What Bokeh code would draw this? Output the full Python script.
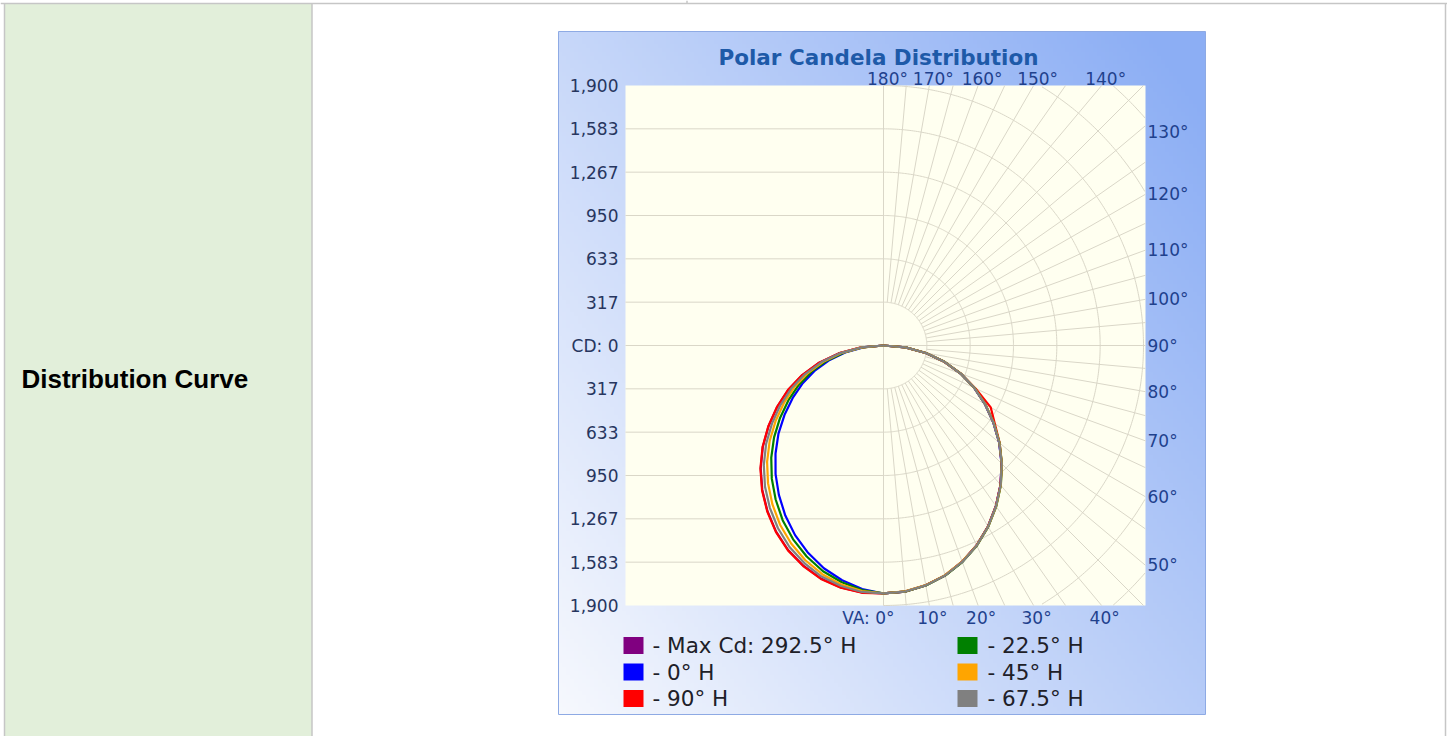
import numpy as np
from bokeh.plotting import figure
from bokeh.models import Range1d
from bokeh.core.properties import value
from bokeh.embed import file_html
from bokeh.resources import INLINE

# ---------------- data ----------------
va_deg = [0, 5, 10, 15, 20, 25, 30, 35, 40, 45, 50, 55, 60, 65, 70, 75, 80, 85, 90]

# right half of the plot (horizontal planes 0 .. 112.5)
cd_h0     = [1812, 1805, 1779, 1739, 1681, 1611, 1527, 1432, 1330, 1220, 1103, 979, 855, 731, 599, 460, 314, 161, 0]
cd_h22_5  = [1812, 1806, 1781, 1741, 1684, 1614, 1530, 1436, 1334, 1224, 1107, 983, 859, 734, 601, 462, 315, 162, 0]
cd_h45    = [1812, 1804, 1778, 1738, 1680, 1612, 1529, 1435, 1333, 1223, 1106, 982, 858, 733, 600, 461, 315, 161, 0]
cd_h67_5  = [1812, 1805, 1780, 1740, 1683, 1613, 1529, 1434, 1332, 1222, 1105, 981, 857, 732, 600, 461, 314, 161, 0]
cd_h90    = [1812, 1805, 1779, 1739, 1681, 1611, 1527, 1432, 1330, 1222, 1108, 992, 905, 742, 602, 460, 314, 161, 0]
cd_h112_5 = [1812, 1806, 1780, 1740, 1682, 1612, 1528, 1433, 1331, 1221, 1104, 980, 856, 732, 600, 461, 314, 161, 0]

# left half of the plot (opposite planes)
cd_h180   = [1812, 1786, 1742, 1685, 1612, 1529, 1435, 1333, 1227, 1116, 1002, 883, 766, 651, 531, 407, 277, 142, 0]
cd_h202_5 = [1812, 1794, 1757, 1708, 1641, 1563, 1474, 1374, 1270, 1160, 1044, 923, 803, 685, 560, 429, 292, 150, 0]
cd_h225   = [1812, 1802, 1773, 1730, 1670, 1597, 1512, 1416, 1313, 1203, 1086, 963, 840, 718, 588, 451, 308, 158, 0]
cd_h247_5 = [1812, 1808, 1785, 1748, 1692, 1625, 1542, 1448, 1347, 1237, 1120, 995, 870, 744, 610, 469, 320, 164, 0]
cd_h270   = [1812, 1814, 1798, 1766, 1715, 1652, 1573, 1481, 1381, 1272, 1154, 1027, 899, 771, 633, 487, 333, 171, 0]
cd_h292_5 = [1812, 1812, 1796, 1763, 1712, 1649, 1570, 1478, 1378, 1269, 1151, 1025, 897, 769, 631, 486, 332, 170, 0]

cd_axis_max = 1900
cd_ticks_up_labels = ["CD: 0", "317", "633", "950", "1,267", "1,583", "1,900"]
cd_ticks_down_labels = ["317", "633", "950", "1,267", "1,583", "1,900"]
va_top_labels = [180, 170, 160, 150, 140]
va_right_labels = [130, 120, 110, 100, 90, 80, 70, 60, 50]
va_bottom_labels = [10, 20, 30, 40]

legend_left_labels = ["- Max Cd: 292.5° H", "- 0° H", "- 90° H"]
legend_left_colors = ["#800080", "#0000ff", "#ff0000"]
legend_right_labels = ["- 22.5° H", "- 45° H", "- 67.5° H"]
legend_right_colors = ["#008000", "#ffa500", "#808080"]

# curve pairs: (right-half plane, left-half plane, colour) in drawing order
curves = [
    (cd_h112_5, cd_h292_5, "#800080"),
    (cd_h0, cd_h180, "#0000ff"),
    (cd_h90, cd_h270, "#ff0000"),
    (cd_h22_5, cd_h202_5, "#008000"),
    (cd_h45, cd_h225, "#ffa500"),
    (cd_h67_5, cd_h247_5, "#808080"),
]

# ---------------- geometry (page pixels -> candela space) ----------------
W, H = 1447, 736
M = 0
CX, CY = 883, 345
S = 260 / cd_axis_max  # px per candela


def X(px):
    return (px - CX) / S


def Y(py):
    return (CY - py) / S


p = figure(width=W, height=H,
           x_range=Range1d(X(M), X(M + W)), y_range=Range1d(Y(M + H), Y(M)),
           output_backend="svg", toolbar_location=None,
           x_axis_location=None, y_axis_location=None,
           min_border=0, outline_line_color=None)
p.grid.visible = False
p.background_fill_color = "white"
p.border_fill_color = "white"

# ---------------- page table ----------------
p.quad(left=[X(4)], right=[X(311.5)], top=[Y(3)], bottom=[Y(M + H)],
       fill_color="#e2efda", line_color=None)
p.segment(x0=[X(0), X(4), X(311.5), X(1445)],
          y0=[Y(3), Y(3), Y(3), Y(3)],
          x1=[X(1447), X(4), X(311.5), X(1445)],
          y1=[Y(3), Y(M + H), Y(M + H), Y(M + H)],
          line_color="#c6c6c6", line_width=1.5)
p.segment(x0=[X(686.5)], y0=[Y(0)], x1=[X(686.5)], y1=[Y(3)],
          line_color="#c6c6c6", line_width=1.5)
p.text(x=[X(21)], y=[Y(378)], text=["Distribution Curve"],
       text_font=value("Liberation Sans"), text_font_style="bold",
       text_font_size="26px", text_color="#000000",
       text_align="left", text_baseline="middle")

# ---------------- chart frame with gradient ----------------
fx0, fx1, fy0, fy1 = 558, 1205, 31, 714
nx, ny = 162, 171
u = np.linspace(0, 1, nx)[None, :]
vb = np.linspace(0, 1, ny)[:, None]
t = np.clip(0.6 * u + 0.45 * vb, 0, 1)
c0 = np.array([246.0, 248.0, 253.0])
c1 = np.array([140.0, 174.0, 244.0])
rgba = np.zeros((ny, nx, 4), dtype=np.uint8)
for i in range(3):
    rgba[..., i] = np.round(c0[i] + (c1[i] - c0[i]) * t).astype(np.uint8)
rgba[..., 3] = 255
img = rgba.view(dtype=np.uint32).reshape((ny, nx))
p.image_rgba(image=[img], x=X(fx0), y=Y(fy1), dw=(fx1 - fx0) / S, dh=(fy1 - fy0) / S)
p.quad(left=[X(fx0)], right=[X(fx1)], top=[Y(fy0)], bottom=[Y(fy1)],
       fill_color=None, line_color="#8eaae4", line_width=1)

# plot area
PL, PR, PT, PB = X(625), X(1145), cd_axis_max, -cd_axis_max
p.quad(left=[PL], right=[PR], top=[PT], bottom=[PB],
       fill_color="#fffff0", line_color=None)

# ---------------- grid ----------------
grid_col = "#dad7c8"
step = cd_axis_max / 6
hx0, hy0, hx1, hy1 = [], [], [], []
for k in range(1, 6):
    for sgn in (1, -1):
        hx0.append(PL); hx1.append(0); hy0.append(sgn * k * step); hy1.append(sgn * k * step)
hx0 += [PL, 0]; hx1 += [PR, 0]; hy0 += [0, PB]; hy1 += [0, PT]
p.segment(x0=hx0, y0=hy0, x1=hx1, y1=hy1, line_color=grid_col, line_width=1)

arc_xs, arc_ys = [], []
th = np.radians(np.arange(0, 180.25, 0.5))
for k in range(1, 9):
    r = k * step
    ax = r * np.sin(th)
    ay = -r * np.cos(th)
    ok = (ax <= PR) & (np.abs(ay) <= cd_axis_max + 1e-6)
    run_x, run_y = [], []
    for xi, yi, oi in zip(ax, ay, ok):
        if oi:
            run_x.append(xi); run_y.append(yi)
        else:
            if len(run_x) > 1:
                arc_xs.append(run_x); arc_ys.append(run_y)
            run_x, run_y = [], []
    if len(run_x) > 1:
        arc_xs.append(run_x); arc_ys.append(run_y)
p.multi_line(xs=arc_xs, ys=arc_ys, line_color=grid_col, line_width=1)

rad_xs, rad_ys = [], []
for va in range(5, 180, 5):
    if va == 90:
        continue
    a = np.radians(va)
    dx, dy = np.sin(a), -np.cos(a)
    tmax = min(PR / dx, cd_axis_max / abs(dy))
    rad_xs.append([step * dx, tmax * dx])
    rad_ys.append([step * dy, tmax * dy])
p.multi_line(xs=rad_xs, ys=rad_ys, line_color=grid_col, line_width=1)

# ---------------- curves ----------------
th_c = np.radians(np.array(va_deg, dtype=float))
for right, left, col in curves:
    r_r = np.array(right, dtype=float)
    r_l = np.array(left, dtype=float)
    xr, yr = r_r * np.sin(th_c), -r_r * np.cos(th_c)
    xl, yl = -r_l * np.sin(th_c), -r_l * np.cos(th_c)
    xs = np.concatenate([xr[::-1], xl[1:]])
    ys = np.concatenate([yr[::-1], yl[1:]])
    p.line(x=xs, y=ys, line_color=col, line_width=2.2, line_join="round")

# ---------------- labels ----------------
font = value("DejaVu Sans")
tick_col = "#27365f"
deg_col = "#1f418d"

up_vals = [k * step for k in range(7)]
down_vals = [-k * step for k in range(1, 7)]
p.text(x=[X(618)] * (len(up_vals) + len(down_vals)), y=up_vals + down_vals,
       text=cd_ticks_up_labels + cd_ticks_down_labels,
       text_font=font, text_font_size="17px", text_color=tick_col,
       text_align="right", text_baseline="middle")

top_x = [cd_axis_max * np.tan(np.radians(180 - va)) + 4 / S for va in va_top_labels]
p.text(x=top_x, y=[Y(78)] * len(top_x), text=[f"{va}°" for va in va_top_labels],
       text_font=font, text_font_size="17px", text_color=deg_col,
       text_align="center", text_baseline="alphabetic")

right_y = []
for va in va_right_labels:
    if va == 90:
        right_y.append(0.0)
    else:
        right_y.append(min(-PR / np.tan(np.radians(va)), Y(131)))
p.text(x=[X(1147)] * len(right_y), y=right_y, text=[f"{va}°" for va in va_right_labels],
       text_font=font, text_font_size="17px", text_color=deg_col,
       text_align="left", text_baseline="middle")

bot_x = [cd_axis_max * np.tan(np.radians(va)) + 3 / S for va in va_bottom_labels]
p.text(x=bot_x, y=[Y(617)] * len(bot_x), text=[f"{va}°" for va in va_bottom_labels],
       text_font=font, text_font_size="17px", text_color=deg_col,
       text_align="center", text_baseline="middle")
p.text(x=[X(894)], y=[Y(617)], text=["VA: 0°"],
       text_font=font, text_font_size="17px", text_color=deg_col,
       text_align="right", text_baseline="middle")

p.text(x=[X(878)], y=[Y(57)], text=["Polar Candela Distribution"],
       text_font=font, text_font_style="bold", text_font_size="21.5px",
       text_color="#1e5aa8", text_align="center", text_baseline="alphabetic")

# ---------------- legend ----------------
rows = [645, 671.5, 698]
p.quad(left=[X(623)] * 3, right=[X(643)] * 3,
       top=[Y(r - 8.5) for r in rows], bottom=[Y(r + 8.5) for r in rows],
       fill_color=legend_left_colors, line_color=None)
p.quad(left=[X(957)] * 3, right=[X(977)] * 3,
       top=[Y(r - 8.5) for r in rows], bottom=[Y(r + 8.5) for r in rows],
       fill_color=legend_right_colors, line_color=None)
p.text(x=[X(652)] * 3, y=[Y(r) for r in rows], text=legend_left_labels,
       text_font=font, text_font_size="21.5px", text_color="#202028",
       text_align="left", text_baseline="middle")
p.text(x=[X(987)] * 3, y=[Y(r) for r in rows], text=legend_right_labels,
       text_font=font, text_font_size="21.5px", text_color="#202028",
       text_align="left", text_baseline="middle")

open("out.html", "w").write(file_html(p, INLINE))
